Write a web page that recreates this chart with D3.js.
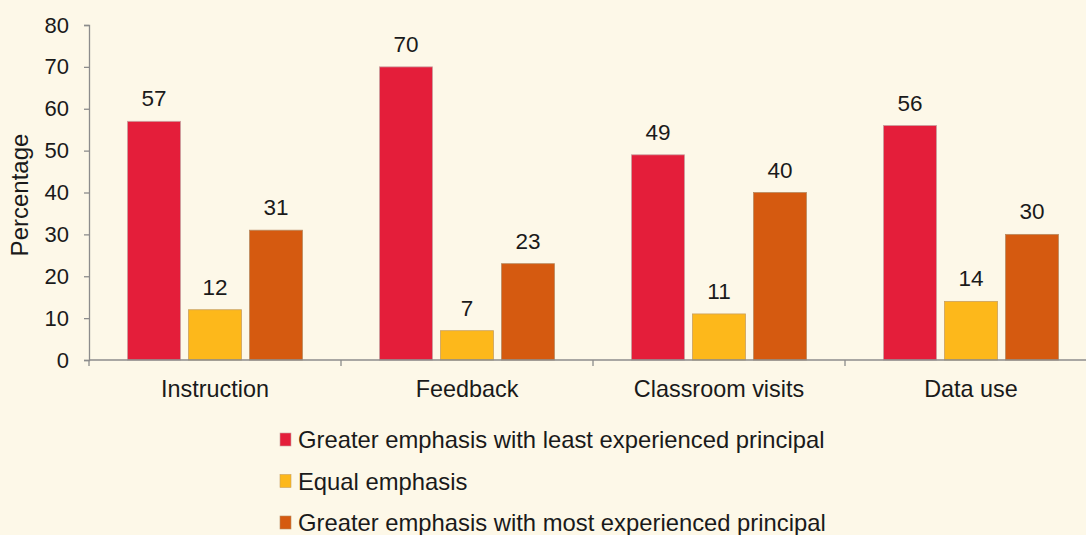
<!DOCTYPE html>
<html>
<head>
<meta charset="utf-8">
<script src="https://cdn.jsdelivr.net/npm/d3@7"></script>
<style>
  body { margin: 0; background: #fdf8e8; }
  svg { display: block; font-family: "Liberation Sans", Arial, sans-serif; }
</style>
</head>
<body>
<div class="container"></div>
<script>
var categories = ["Instruction", "Feedback", "Classroom visits", "Data use"];
var seriesNames = [
    "Greater emphasis with least experienced principal",
    "Equal emphasis",
    "Greater emphasis with most experienced principal"
];
var leastExperienced = [57, 70, 49, 56];
var equalEmphasis = [12, 7, 11, 14];
var mostExperienced = [31, 23, 40, 30];
var yTicks = [0, 10, 20, 30, 40, 50, 60, 70, 80];

var colors = ["#e41e3a", "#fdb81b", "#d55a10"];
var strokes = ["#c9a0a0", "#c9a060", "#b88a60"];

var width = 1086;
var height = 535;
var plot = {left: 89, top: 25, right: 1097, bottom: 360};

var seriesValues = [leastExperienced, equalEmphasis, mostExperienced];

function init() {
    var svg = d3.select(".container").append("svg")
        .attr("width", width)
        .attr("height", height);

    svg.append("rect")
        .attr("width", width)
        .attr("height", height)
        .attr("fill", "#fdf8e8");

    var y = d3.scaleLinear().domain([0, 80]).range([plot.bottom, plot.top]);
    var x0 = d3.scaleBand().domain(categories).range([plot.left, plot.right]);
    var x1 = d3.scaleBand().domain(d3.range(3))
        .range([0, x0.bandwidth()])
        .paddingInner(0.131)
        .paddingOuter(0.631);

    // y axis
    var yAxis = svg.append("g")
        .attr("transform", "translate(" + plot.left + ",0)")
        .call(d3.axisLeft(y).tickValues(yTicks).tickSize(5).tickPadding(15));
    yAxis.selectAll("path, line").attr("stroke", "#8c8c8c").attr("stroke-width", 1.3);
    yAxis.selectAll("text").attr("font-size", 22).attr("fill", "#1a1a1a")
        .attr("font-family", "Liberation Sans, Arial, sans-serif");

    // bars
    var groups = svg.selectAll("g.cat")
        .data(categories)
        .enter()
        .append("g")
        .classed("cat", true)
        .attr("transform", function(d) { return "translate(" + x0(d) + ",0)"; });

    groups.selectAll("rect")
        .data(function(d, i) { return seriesValues.map(function(s, j) { return {s: j, v: s[i]}; }); })
        .enter()
        .append("rect")
        .attr("x", function(d) { return x1(d.s); })
        .attr("width", x1.bandwidth())
        .attr("y", function(d) { return y(d.v); })
        .attr("height", function(d) { return y(0) - y(d.v); })
        .attr("fill", function(d) { return colors[d.s]; })
        .attr("stroke", function(d) { return strokes[d.s]; })
        .attr("stroke-width", 0.8);

    groups.selectAll("text.val")
        .data(function(d, i) { return seriesValues.map(function(s, j) { return {s: j, v: s[i]}; }); })
        .enter()
        .append("text")
        .classed("val", true)
        .attr("x", function(d) { return x1(d.s) + x1.bandwidth() / 2; })
        .attr("y", function(d) { return y(d.v) - 15; })
        .attr("text-anchor", "middle")
        .attr("font-size", 22.5)
        .attr("fill", "#1a1a1a")
        .text(function(d) { return d.v; });

    // x axis
    var xAxis = svg.append("g")
        .attr("transform", "translate(0," + plot.bottom + ")");
    xAxis.append("line")
        .attr("x1", plot.left).attr("x2", plot.right)
        .attr("stroke", "#8c8c8c").attr("stroke-width", 1.3);
    xAxis.selectAll("line.tick")
        .data(categories)
        .enter()
        .append("line")
        .classed("tick", true)
        .attr("x1", function(d) { return x0(d); })
        .attr("x2", function(d) { return x0(d); })
        .attr("y1", 0).attr("y2", 6)
        .attr("stroke", "#8c8c8c").attr("stroke-width", 1.3);
    xAxis.selectAll("text")
        .data(categories)
        .enter()
        .append("text")
        .attr("x", function(d) { return x0(d) + x0.bandwidth() / 2; })
        .attr("y", 37)
        .attr("text-anchor", "middle")
        .attr("font-size", 23.4)
        .attr("fill", "#1a1a1a")
        .text(function(d) { return d; });

    // y label
    svg.append("text")
        .attr("transform", "translate(28,195) rotate(-90)")
        .attr("text-anchor", "middle")
        .attr("font-size", 24)
        .attr("fill", "#1a1a1a")
        .text("Percentage");

    // legend
    var legend = svg.selectAll("g.legend")
        .data(seriesNames)
        .enter()
        .append("g")
        .classed("legend", true)
        .attr("transform", function(d, i) { return "translate(280," + (440 + i * 41.5) + ")"; });
    legend.append("rect")
        .attr("x", 0).attr("y", -7)
        .attr("width", 11).attr("height", 13)
        .attr("fill", function(d, i) { return colors[i]; })
        .attr("stroke", function(d, i) { return strokes[i]; })
        .attr("stroke-width", 0.6);
    legend.append("text")
        .attr("x", 18)
        .attr("y", 8)
        .attr("font-size", 23.8)
        .attr("fill", "#1a1a1a")
        .text(function(d) { return d; });
}

init();
</script>
</body>
</html>
